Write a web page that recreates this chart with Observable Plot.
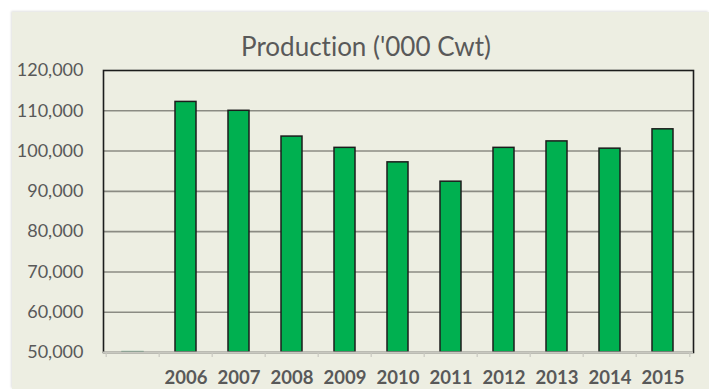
<!DOCTYPE html>
<html>
<head>
<meta charset="utf-8">
<script src="https://cdn.jsdelivr.net/npm/d3@7"></script>
<script src="https://cdn.jsdelivr.net/npm/@observablehq/plot@0.6"></script>
<style>
  html, body { margin: 0; padding: 0; background: #ffffff; }
  #chart { position: relative; width: 709px; height: 389px; overflow: hidden; }
  #panel {
    position: absolute; left: 12px; top: 12px; right: 0; bottom: 0;
    background: #edeee2;
    box-shadow: -1px -1px 2px rgba(0,0,0,0.12);
  }
  #title {
    position: absolute; left: 366px; top: 33px; transform: translateX(-50%);
    font-family: Lato, "Open Sans", sans-serif; font-size: 26px; line-height: 1;
    color: #595959; white-space: nowrap;
    font-variant-ligatures: none; font-feature-settings: "liga" 0;
  }
  #plot { position: absolute; left: 0; top: 0; }
  #plot svg { background: transparent; overflow: visible; font-variant-ligatures: none; }
</style>
</head>
<body>
<div id="chart">
  <div id="panel"></div>
  <div id="title"></div>
  <div id="plot"></div>
</div>
<script>
// Annual production, thousand hundredweight
const chartTitle = "Production ('000 Cwt)";
const categories = ["", "2006", "2007", "2008", "2009", "2010", "2011", "2012", "2013", "2014", "2015"];
const production = [50100, 112200, 110000, 103600, 100800, 97200, 92400, 100800, 102400, 100600, 105400];
const yTicks = [50000, 60000, 70000, 80000, 90000, 100000, 110000, 120000];

const rows = categories.map((year, i) => ({year, value: production[i]}));

document.getElementById("title").textContent = chartTitle;

const W = 709, H = 389;
const margin = {left: 103, right: 16, top: 70, bottom: 37};
const step = (W - margin.left - margin.right) / categories.length;
const textColor = "#595959";
const font = "Lato, 'Open Sans', sans-serif";

const chart = Plot.plot({
  width: W,
  height: H,
  marginLeft: margin.left,
  marginRight: margin.right,
  marginTop: margin.top,
  marginBottom: margin.bottom,
  style: {background: "transparent", fontFamily: font, color: textColor, overflow: "visible"},
  x: {type: "band", domain: categories, paddingInner: 0.6, paddingOuter: 0.3, label: null},
  y: {domain: [yTicks[0], yTicks[yTicks.length - 1]], label: null},
  marks: [
    // horizontal gridlines
    Plot.ruleY(yTicks.slice(1, -1), {stroke: "#8b8b83", strokeWidth: 1.6}),
    // bars
    Plot.barY(rows, {
      x: "year",
      y1: yTicks[0],
      y2: "value",
      fill: "#00b050",
      stroke: d => d.value - yTicks[0] < 1000 ? "#6fa68c" : "#1c1c1c",
      strokeWidth: 1.5
    }),
    // chart border: dark on left, top, right
    Plot.frame({stroke: "#1c1c1c", strokeWidth: 1.6}),
    // lighter category axis line along the bottom
    Plot.ruleY([yTicks[0]], {stroke: "#c8c8c0", strokeWidth: 2}),
    // small ticks at category boundaries
    Plot.axisX(categories, {
      tickSize: 5, dx: -step / 2, tickFormat: () => "", stroke: "#c8c8c0", strokeWidth: 1.2
    }),
    Plot.axisX([categories[categories.length - 1]], {
      tickSize: 5, dx: step / 2, tickFormat: () => "", stroke: "#c8c8c0", strokeWidth: 1.2
    }),
    // year labels
    Plot.axisX({
      tickSize: 0, tickPadding: 18.5, fontSize: 18.5, fontWeight: "bold",
      fill: textColor, fontFamily: font
    }),
    // value labels
    Plot.axisY({
      ticks: yTicks, tickSize: 0, tickPadding: 20, tickFormat: d3.format(","),
      fontSize: 18, fill: textColor, fontFamily: font
    })
  ]
});

document.getElementById("plot").appendChild(chart);
</script>
</body>
</html>
